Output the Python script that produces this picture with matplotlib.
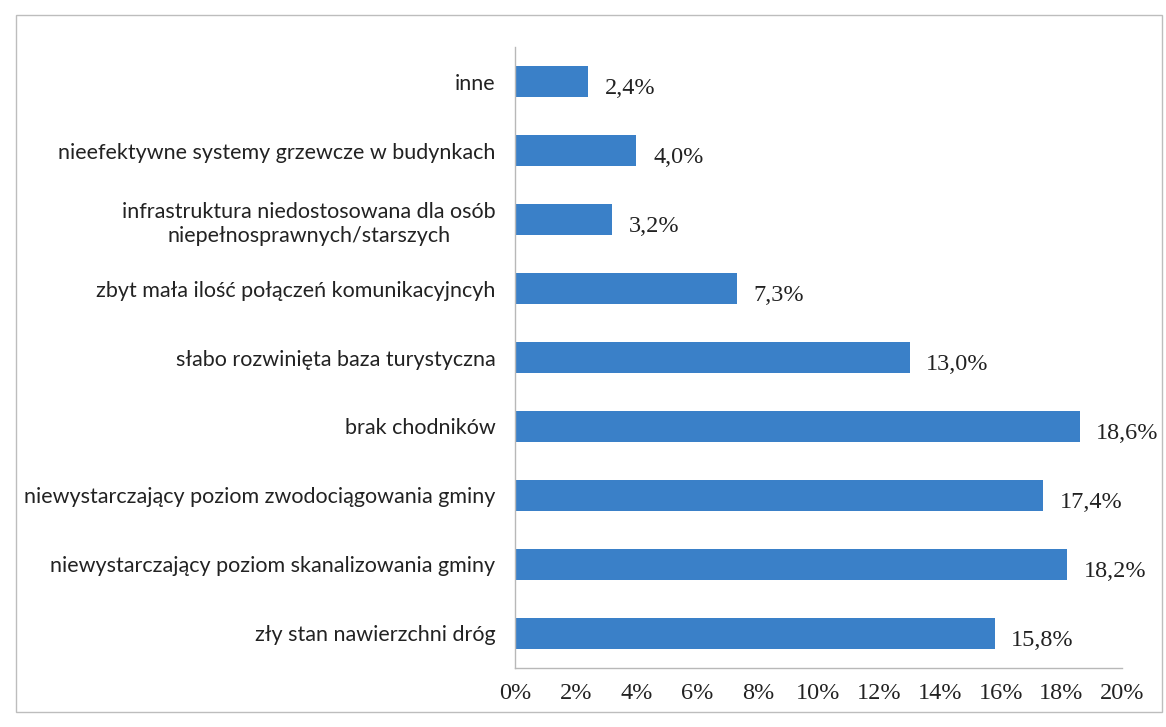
import matplotlib.pyplot as plt
from matplotlib.patches import Rectangle

categories = [
    'zły stan nawierzchni dróg',
    'niewystarczający poziom skanalizowania gminy',
    'niewystarczający poziom zwodociągowania gminy',
    'brak chodników',
    'słabo rozwinięta baza turystyczna',
    'zbyt mała ilość połączeń komunikacyjncyh',
    'infrastruktura niedostosowana dla osób\nniepełnosprawnych/starszych',
    'nieefektywne systemy grzewcze w budynkach',
    'inne',
]
values = [15.8, 18.2, 17.4, 18.6, 13.0, 7.3, 3.2, 4.0, 2.4]
value_labels = ['15,8%', '18,2%', '17,4%', '18,6%', '13,0%', '7,3%', '3,2%', '4,0%', '2,4%']
ticks = [0, 2, 4, 6, 8, 10, 12, 14, 16, 18, 20]

fig = plt.figure(figsize=(11.66, 7.27), dpi=100)
ax = fig.add_axes([0.4417, 0.0812, 0.5206, 0.8541])

y = list(range(len(categories)))
ax.barh(y, values, height=0.44, color='#3a80c8')
for yi, v, lab in zip(y, values, value_labels):
    ax.text(v + 0.55, yi - 0.1, lab, va='center', ha='left',
            family='Liberation Serif', fontsize=17.5, color='#222222')

ax.set_xlim(0, 20)
ax.set_ylim(-0.5, len(categories) - 0.5)
ax.set_yticks(y)
ax.set_yticklabels(categories, family='Lato', fontsize=15.5, color='#222222',
                   linespacing=1.3, ha='right', multialignment='center')
ax.set_xticks(ticks)
ax.set_xticklabels([f'{t}%' for t in ticks], family='Liberation Serif',
                   fontsize=17.5, color='#222222')
ax.tick_params(length=0)
ax.tick_params(axis='x', pad=11)
ax.tick_params(axis='y', pad=14)

for s in ['top', 'right']:
    ax.spines[s].set_visible(False)
for s in ['left', 'bottom']:
    ax.spines[s].set_color('#b8b8b8')
    ax.spines[s].set_linewidth(1.0)

fig.patches.append(Rectangle((16 / 1166, 1 - 712 / 727), 1146 / 1166, 697 / 727,
                             transform=fig.transFigure, fill=False,
                             edgecolor='#bdbdbd', linewidth=1.0))

fig.savefig('out.png', dpi=100)
